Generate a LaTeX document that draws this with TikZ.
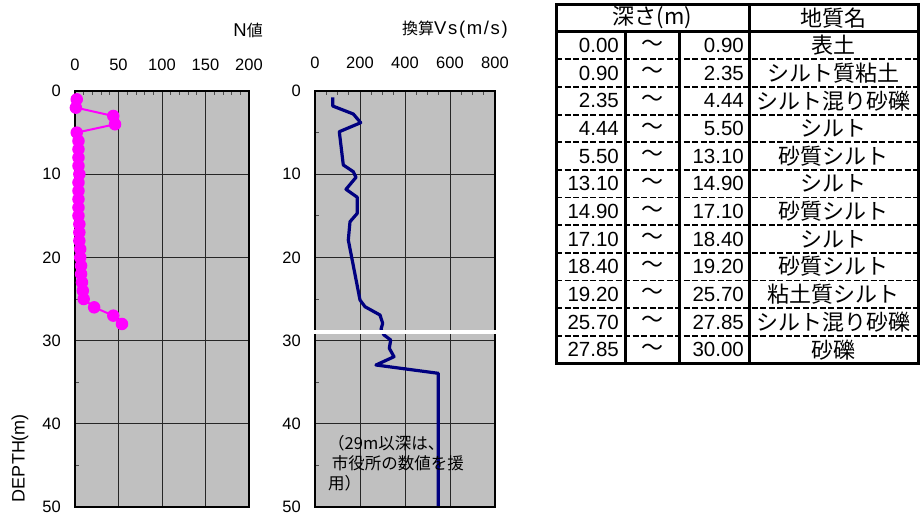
\documentclass[tikz,border=0pt]{standalone}
\usepackage{fontspec}
\setmainfont{Liberation Sans}
\newfontfamily\jp{Noto Sans CJK JP}
\newfontfamily\widesans[LetterSpace=9]{Liberation Sans}
\definecolor{plotgray}{HTML}{C0C0C0}
\definecolor{navy}{HTML}{000080}
\definecolor{mag}{HTML}{FF00FF}
\begin{document}
\begin{tikzpicture}[x=1pt,y=-1pt,
  plotbg/.style={fill=plotgray},
  gridline/.style={line width=1pt,black!85},
  frameline/.style={line width=2.6pt,black},
  tickline/.style={line width=0.8pt,black!70},
  axlbl/.style={font=\fontsize{16.5}{18}\selectfont,inner sep=0pt},
  titlelbl/.style={font=\fontsize{18.5}{20}\selectfont,inner sep=0pt,anchor=east},
  tabnum/.style={font=\fontsize{20.5}{22}\selectfont,inner sep=0pt,anchor=east},
  tabjp/.style={font=\jp\fontsize{22}{24}\selectfont,inner sep=0pt},
  tabline/.style={line width=3pt,black},
  tabdash/.style={line width=1.8pt,black,dash pattern=on 6pt off 2.5pt},
  nline/.style={line width=2pt,mag},
  ndot/.style={circle,fill=mag,inner sep=0pt,minimum size=12.5pt},
  vsline/.style={line width=3.2pt,navy,line join=round}]
\useasboundingbox (0,0) rectangle (923,517);

% ---------------- Left chart: N value ----------------
\fill[plotbg] (75,91) rectangle (249,507);
\foreach \gx in {118.5,162,205.5} \draw[gridline] (\gx,91) -- (\gx,507);
\foreach \gy in {174.2,257.4,340.6,423.8} \draw[gridline] (75,\gy) -- (249,\gy);
\foreach \k in {1,2,3,4,6,7,8,9,11,12,13,14,16,17,18,19} \draw[tickline] ({75+8.7*\k},91) -- ({75+8.7*\k},95);
\foreach \k in {0,...,4} \draw[tickline] (75,{132.6+83.2*\k}) -- (79,{132.6+83.2*\k});
\draw[frameline] (75,91) rectangle (249,507);
\foreach \v [count=\i from 0] in {0,50,100,150,200} \node[axlbl] (nt\i) at ({75+43.5*\i},65) {\v};
\foreach \v [count=\i from 0] in {0,10,20,30,40,50} \node[axlbl,anchor=east] (nl\i) at (61,{91+83.2*\i}) {\v};
\node[titlelbl] (ntitle) at (263,30) {N{\jp\fontsize{16}{18}\selectfont 値}};
\node[axlbl,rotate=90,font=\fontsize{18}{20}\selectfont] (depth) at (20,458) {DEPTH(m)};

\draw[nline] plot coordinates {(76.7,99.3) (75.9,107.6) (113.3,116) (115,124.3) (76.7,132.6)
 (78.5,140.9) (78.5,149.2) (78.5,157.6) (78.5,165.9) (79.4,174.2) (78.5,182.5) (78.5,190.8) (78.5,199.2) (78.5,207.5)
 (78.5,215.8) (79.4,224.1) (79.4,232.4) (79.4,240.8) (80.2,249.1) (80.2,257.4) (81.1,265.7) (81.1,274) (82,282.4)
 (82.8,290.7) (83.7,299) (94.1,307.3) (113.3,315.6) (122,324)};
\foreach \nv/\dv [count=\j] in {2/1,1/2,44/3,46/4,2/5,4/6,4/7,4/8,4/9,5/10,4/11,4/12,4/13,4/14,4/15,5/16,5/17,5/18,
  6/19,6/20,7/21,7/22,8/23,9/24,10/25,22/26,44/27,54/28}
  \node[ndot] (dot\j) at ({75+0.87*\nv},{91+8.32*\dv}) {};

% ---------------- Middle chart: Vs ----------------
\fill[plotbg] (315,91) rectangle (495,507);
\foreach \gx in {360,405,450} \draw[gridline] (\gx,91) -- (\gx,507);
\foreach \gy in {174.2,257.4,340.6,423.8} \draw[gridline] (315,\gy) -- (495,\gy);
\foreach \k in {1,2,3,5,6,7,9,10,11,13,14,15} \draw[tickline] ({315+11.25*\k},91) -- ({315+11.25*\k},95);
\foreach \k in {0,...,4} \draw[tickline] (315,{132.6+83.2*\k}) -- (319,{132.6+83.2*\k});
\draw[vsline] plot coordinates {
 (332.7,97.3) (332.7,106) (353.3,114) (360.7,122.7) (339.3,131.7) (343.3,165) (353.3,171.7)
 (356,177.3) (346,189.3) (357.3,197.3) (357.3,213.3) (350,221.7) (348.3,240) (360,300)
 (365,306.7) (380,315) (382.7,323.3) (381,329.3) (384,335) (390.7,340) (389.3,348.3)
 (394,356.7) (376,365) (438.3,373.3) (438.3,507)};
\draw[frameline] (315,91) rectangle (495,507);
\draw[white,line width=4pt] (314,331.5) -- (497,331.5);
\foreach \v [count=\i from 0] in {0,200,400,600,800} \node[axlbl] (vt\i) at ({315+45*\i},63) {\v};
\foreach \v [count=\i from 0] in {0,10,20,30,40,50} \node[axlbl,anchor=east] (vl\i) at (301,{91+83.2*\i}) {\v};
\node[titlelbl] (vtitle) at (508,30) {{\jp\fontsize{16}{18}\selectfont 換算}{\widesans Vs(m/s)}};
\node[inner sep=0pt,anchor=north west,align=left,font=\jp\fontsize{16.5}{20.3}\selectfont] (note) at (328,435)
  {（29m以深は、\\\ 市役所の数値を援\\用）};

% ---------------- Table ----------------
\fill[white] (556,4) rectangle (918,363.5);
\foreach \r in {2,...,12} \draw[tabdash] (556,{4+27.65*\r}) -- (918,{4+27.65*\r});
\draw[tabline] (556,31.65) -- (918,31.65);
\draw[tabline] (625,31.65) -- (625,363.5);
\draw[tabline] (679,31.65) -- (679,363.5);
\draw[tabline] (749,4) -- (749,363.5);
\draw[tabline] (556,4) rectangle (918,363.5);
\node[tabjp] (h1) at (652.5,17.8) {深さ(m)};
\node[tabjp] (h2) at (833.5,17.8) {地質名};
\foreach \a/\b/\n [count=\r from 1] in {
  0.00/0.90/表土, 0.90/2.35/シルト質粘土, 2.35/4.44/シルト混り砂礫, 4.44/5.50/シルト,
  5.50/13.10/砂質シルト, 13.10/14.90/シルト, 14.90/17.10/砂質シルト, 17.10/18.40/シルト,
  18.40/19.20/砂質シルト, 19.20/25.70/粘土質シルト, 25.70/27.85/シルト混り砂礫, 27.85/30.00/砂礫}{
  \node[tabnum] (a\r) at (619,{4+27.65*(\r+0.5)}) {\a};
  \node[tabjp] (w\r) at (652,{4+27.65*(\r+0.5)}) {～};
  \node[tabnum] (b\r) at (744,{4+27.65*(\r+0.5)}) {\b};
  \node[tabjp] (g\r) at (833.5,{4+27.65*(\r+0.5)}) {\n};
}
\end{tikzpicture}
\end{document}
